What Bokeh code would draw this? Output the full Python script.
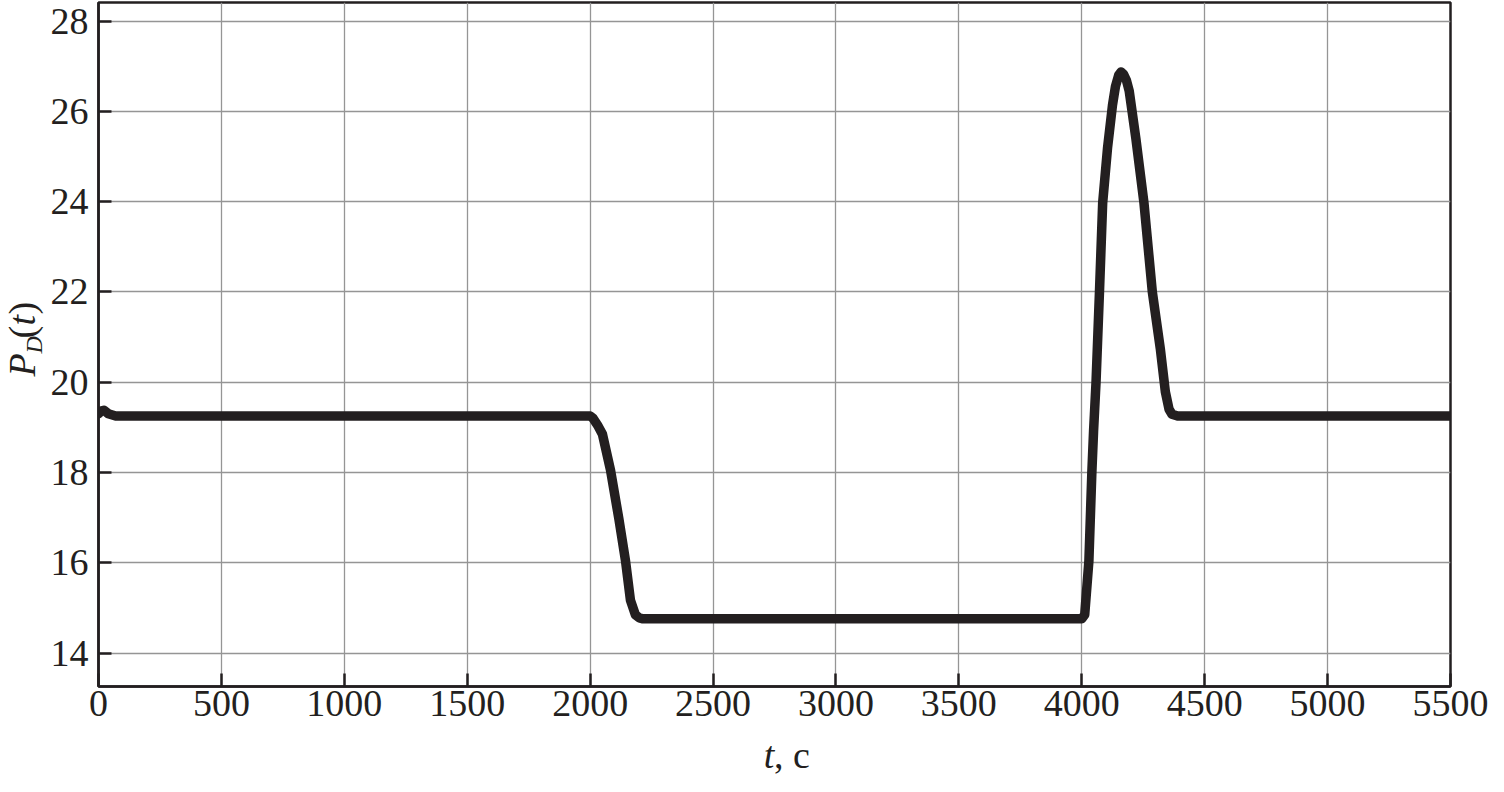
import math
from bokeh.plotting import figure
from bokeh.models import FixedTicker, Range1d
from bokeh.layouts import row, column
from bokeh.core.properties import value
from bokeh.embed import file_html
from bokeh.resources import INLINE

# ---- data ----
t_values = [0, 10, 22, 40, 70, 120, 2000, 2012, 2030, 2050, 2083, 2117, 2144, 2164, 2184, 2200, 2215, 2240,
            4000, 4012, 4029, 4041, 4048, 4058, 4072, 4085, 4105, 4125, 4137, 4150, 4160, 4170, 4182, 4193,
            4220, 4253, 4287, 4320, 4340, 4355, 4367, 4390, 5500]
p_values = [19.30, 19.36, 19.38, 19.30, 19.25, 19.25, 19.25, 19.2, 19.05, 18.85, 18.05, 16.97, 16.04, 15.17, 14.85, 14.78, 14.76, 14.76,
            14.76, 14.85, 16.04, 18.0, 18.92, 20.0, 22.0, 23.97, 25.2, 26.14, 26.55, 26.8, 26.87, 26.82, 26.68, 26.45,
            25.4, 23.97, 22.0, 20.72, 19.79, 19.4, 19.29, 19.25, 19.25]

x_ticks = [0, 500, 1000, 1500, 2000, 2500, 3000, 3500, 4000, 4500, 5000, 5500]
y_ticks = [14, 16, 18, 20, 22, 24, 26, 28]

INK = "#231f20"
GRID = "#959595"
FONT = "Liberation Serif"

LEFT_W = 47
MAIN_W = 1488 - LEFT_W
BOT_H = 44
MAIN_H = 776 - BOT_H

p = figure(width=MAIN_W, height=MAIN_H, output_backend="svg", toolbar_location=None,
           x_range=Range1d(0, 5500), y_range=Range1d(13.26, 28.41),
           min_border_left=98 - LEFT_W, min_border_right=38, min_border_top=2, min_border_bottom=46)
p.background_fill_color = "white"
p.border_fill_color = "white"
p.outline_line_color = INK
p.outline_line_width = 2.5

p.line(t_values, p_values, line_color=INK, line_width=9.5, line_join="round", line_cap="round")

for ax, ticks in ((p.xaxis[0], x_ticks), (p.yaxis[0], y_ticks)):
    ax.ticker = FixedTicker(ticks=ticks)
    ax.axis_line_color = INK
    ax.axis_line_width = 2.5
    ax.major_tick_line_color = INK
    ax.major_tick_line_width = 2.5
    ax.major_tick_in = 13
    ax.major_tick_out = 0
    ax.minor_tick_line_color = None
    ax.major_label_text_font = FONT
    ax.major_label_text_font_size = "38px"
    ax.major_label_text_color = INK

p.xaxis.major_label_standoff = 4
p.yaxis.major_label_standoff = 10

p.xgrid.ticker = FixedTicker(ticks=x_ticks)
p.ygrid.ticker = FixedTicker(ticks=y_ticks)
for g in (p.xgrid[0], p.ygrid[0]):
    g.grid_line_color = GRID
    g.grid_line_width = 1.3


def blank(w, h):
    f = figure(width=w, height=h, output_backend="svg", toolbar_location=None,
               x_range=Range1d(0, w), y_range=Range1d(0, h),
               x_axis_location=None, y_axis_location=None,
               min_border_left=0, min_border_right=0, min_border_top=0, min_border_bottom=0)
    f.grid.visible = False
    f.outline_line_color = None
    f.background_fill_color = "white"
    f.border_fill_color = "white"
    return f


def txt(f, s, x, y, style="normal", size="38px", angle=0.0):
    f.text(x=[x], y=[y], text=[s], text_font=value(FONT), text_font_size=value(size),
           text_font_style=style, text_color=INK, angle=angle,
           text_align="left", text_baseline="middle")


# y label "P_D(t)" (rotated, reading upwards), in its own strip to the left
left = blank(LEFT_W, MAIN_H)
a = math.pi / 2
txt(left, "P", 21, MAIN_H - 376, style="italic", angle=a)
txt(left, "D", 33, MAIN_H - 353, style="italic", size="24px", angle=a)
txt(left, "(", 21, MAIN_H - 338, angle=a)
txt(left, "t", 21, MAIN_H - 325, style="italic", angle=a)
txt(left, ")", 21, MAIN_H - 314, angle=a)

# x label "t, c" below the plot
bottom = blank(MAIN_W, BOT_H)
txt(bottom, "t", 756 - LEFT_W, 22, style="italic")
txt(bottom, ", c", 767 - LEFT_W, 22)

layout = row(left, column(p, bottom, spacing=0), spacing=0)

open("out.html", "w").write(file_html(layout, INLINE))
